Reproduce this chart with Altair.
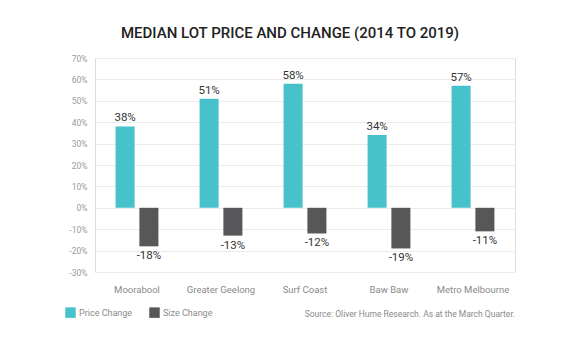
import altair as alt
import pandas as pd

regions = ["Moorabool", "Greater Geelong", "Surf Coast", "Baw Baw", "Metro Melbourne"]
price_change = [38, 51, 58, 34, 57]
size_change = [-18, -13, -12, -19, -11]
series = ["Price Change", "Size Change"]
colors = ["#48C2CA", "#575759"]
y_ticks = [-30, -20, -10, 0, 10, 20, 30, 40, 50, 60, 70]

rows = []
for r, p, s in zip(regions, price_change, size_change):
    rows.append({"region": r, "series": "Price Change", "value": p, "label": f"{p}%"})
    rows.append({"region": r, "series": "Size Change", "value": s, "label": f"{s}%"})
df = pd.DataFrame(rows)

FONT = "Roboto"

x = alt.X("region:N", sort=regions, title=None,
          scale=alt.Scale(paddingInner=0.49, paddingOuter=0.245),
          axis=alt.Axis(labelAngle=0, labelFont=FONT, labelFontSize=9.5, labelColor="#8a8a8a",
                        labelPadding=12, ticks=False, domain=False))
xo = alt.XOffset("series:N", sort=series, scale=alt.Scale(paddingInner=0.2))
y = alt.Y("value:Q", title=None,
          scale=alt.Scale(domain=[-30, 70], nice=False),
          axis=alt.Axis(values=y_ticks, labelExpr="datum.value + '%'", labelFont=FONT,
                        labelFontSize=8.5, labelColor="#9a9a9a", labelPadding=8,
                        ticks=False, domain=False, gridColor="#ebebeb", gridWidth=1))

base = alt.Chart(df)

bars = base.mark_bar().encode(
    x=x, xOffset=xo, y=y,
    color=alt.Color("series:N", sort=series,
                    scale=alt.Scale(domain=series, range=colors),
                    legend=alt.Legend(title=None, orient="none", direction="horizontal",
                                      legendX=-30, legendY=249, symbolType="square",
                                      symbolSize=110, symbolStrokeWidth=0, symbolOpacity=1,
                                      labelFont=FONT, labelFontSize=9, labelColor="#8a8a8a",
                                      columnPadding=16, labelOffset=3)),
)

pos_labels = base.transform_filter("datum.value >= 0").mark_text(
    baseline="bottom", dy=-3, font=FONT, fontSize=11.5, color="#333333"
).encode(x=x, xOffset=xo, y=y, text="label:N")

neg_labels = base.transform_filter("datum.value < 0").mark_text(
    baseline="top", dy=4, font=FONT, fontSize=11.5, color="#333333"
).encode(x=x, xOffset=xo, y=y, text="label:N")

source = alt.Chart(pd.DataFrame({"t": ["Source: Oliver Hume Research. As at the March Quarter."]})).mark_text(
    align="right", baseline="middle", font=FONT, fontSize=8.5, color="#8a8a8a"
).encode(x=alt.value(420), y=alt.value(256), text="t:N")

chart = alt.layer(bars, pos_labels, neg_labels, source).properties(
    width=420, height=214,
    title=alt.TitleParams("MEDIAN LOT PRICE AND CHANGE (2014 TO 2019)", font=FONT, fontSize=15,
                          fontWeight=500, color="#222222", anchor="middle", dx=-15, offset=13),
    autosize=alt.AutoSizeParams(type="none"),
    padding={"left": 95, "top": 58, "right": 65, "bottom": 80},
).configure_view(stroke=None).configure(background="white")

chart.save("out.html", embed_options={"renderer": "svg", "actions": False})
